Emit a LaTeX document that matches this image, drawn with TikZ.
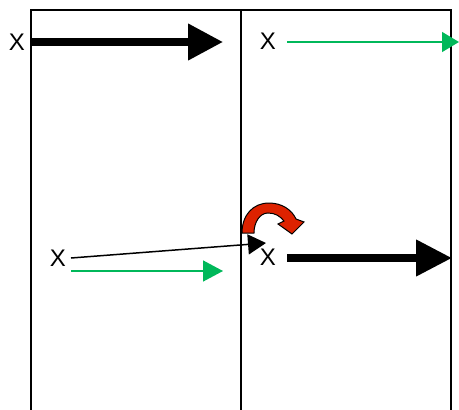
\documentclass[tikz,border=0pt]{standalone}
\usepackage{fontspec}
\setmainfont{Liberation Sans}
\usetikzlibrary{arrows.meta}
\definecolor{grn}{RGB}{0,184,90}
\definecolor{rd}{RGB}{221,34,0}
\begin{document}
\begin{tikzpicture}[x=1pt,y=-1pt,
  lbl/.style={inner sep=0pt,font=\fontsize{24}{24}\selectfont},
  frame/.style={line width=1.3pt,black},
  thickarrow/.style={line width=7.5pt,-{Triangle[length=35pt,width=35pt]}},
  greenarrow/.style={line width=1.5pt,grn,-{Triangle[length=17pt,width=20pt]}},
  thinarrow/.style={line width=1.5pt,black,-{Triangle[length=18pt,width=20pt]}}]
\useasboundingbox (0,0) rectangle (459,410);
% frame
\draw[frame] (31,410) -- (31,10) -- (451,10) -- (451,410);
\draw[frame] (241,10) -- (241,410);
% labels
\node[lbl] (xa) at (17,42) {X};
\node[lbl] (xb) at (268,41) {X};
\node[lbl] (xc) at (58,258) {X};
\node[lbl] (xd) at (268,257) {X};
% coordinates
\coordinate (a1) at (31,42);
\coordinate (a2) at (223,42);
\coordinate (b1) at (287,42);
\coordinate (b2) at (459,42);
\coordinate (c1) at (71,258);
\coordinate (c2) at (266,243);
\coordinate (d1) at (71,271);
\coordinate (d2) at (223,271);
\coordinate (e1) at (287,258);
\coordinate (e2) at (452,258);
% arrows
\draw[thickarrow] (a1) -- (a2);
\draw[greenarrow] (b1) -- (b2);
\draw[thinarrow] (c1) -- (c2);
\draw[greenarrow,-{Triangle[length=20pt,width=21pt]}] (d1) -- (d2);
\draw[thickarrow,-{Triangle[length=36pt,width=35pt]}] (e1) -- (e2);
% curved red arrow
\draw[fill=rd,line width=1pt,line join=miter]
  (242,233) .. controls (242,215) and (253,203) .. (269,203)
  .. controls (282,203) and (292,210) .. (296,219)
  -- (304,222) -- (292,234) -- (278,224) -- (284,221)
  .. controls (280,216) and (275,213) .. (268,213)
  .. controls (260,213) and (254,222) .. (254,233) -- cycle;
\end{tikzpicture}
\end{document}
